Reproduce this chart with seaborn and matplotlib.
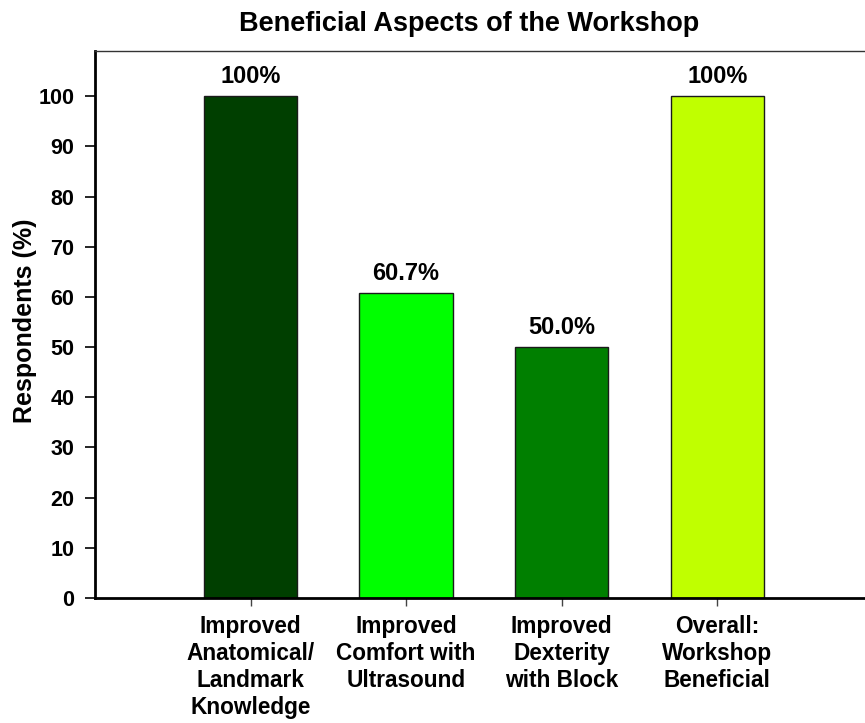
import matplotlib
matplotlib.use("Agg")
import matplotlib.pyplot as plt
import seaborn as sns
import pandas as pd

categories = [
    "Improved\nAnatomical/\nLandmark\nKnowledge",
    "Improved\nComfort with\nUltrasound",
    "Improved\nDexterity\nwith Block",
    "Overall:\nWorkshop\nBeneficial",
]
values = [100.0, 60.7, 50.0, 100.0]
value_labels = ["100%", "60.7%", "50.0%", "100%"]
bar_colors = ["#003f00", "#00ff00", "#007f00", "#c0ff00"]
y_ticks = [0, 10, 20, 30, 40, 50, 60, 70, 80, 90, 100]

sns.set_theme(style="white")
plt.rcParams["font.family"] = ["Liberation Sans", "DejaVu Sans"]
plt.rcParams["font.weight"] = "bold"
plt.rcParams["text.color"] = "black"
plt.rcParams["axes.labelcolor"] = "black"
plt.rcParams["xtick.color"] = "black"
plt.rcParams["ytick.color"] = "black"

df = pd.DataFrame({"aspect": categories, "pct": values})

fig = plt.figure(figsize=(8.65, 7.23), dpi=100)
ax = fig.add_axes([0.1098, 0.1729, 0.8902, 0.7566])

sns.barplot(data=df, x="aspect", y="pct", hue="aspect", palette=bar_colors,
            width=0.6, edgecolor="#1a1a1a", linewidth=1.0, legend=False,
            saturation=1, ax=ax)

for i, (v, lab) in enumerate(zip(values, value_labels)):
    ax.text(i, v + 1.6, lab, ha="center", va="bottom", fontsize=17,
            fontweight="bold", color="black")

ax.set_xlim(-1.0, 3.95)
ax.set_ylim(0, 109)
ax.set_yticks(y_ticks)
ax.set_yticklabels([str(t) for t in y_ticks], fontsize=15.5, fontweight="bold")
ax.set_xticks(range(len(categories)))
ax.set_xticklabels(categories, fontsize=16.3, fontweight="bold",
                   linespacing=1.22)
ax.set_xlabel("")
ax.set_ylabel("")
fig.text(25 / 865, 1 - 321 / 723, "Respondents (%)", rotation=90,
         ha="center", va="center", fontsize=18, fontweight="bold")

ax.tick_params(axis="y", direction="out", length=7, width=1.2, color="black",
               left=True, pad=8, labelcolor="black")
ax.tick_params(axis="x", direction="out", length=6, width=1.0, color="#444444",
               bottom=True, pad=6, labelcolor="black")

for side in ["left", "bottom"]:
    ax.spines[side].set_visible(True)
    ax.spines[side].set_color("black")
    ax.spines[side].set_linewidth(2.0)
ax.spines["top"].set_visible(True)
ax.spines["top"].set_color("#333333")
ax.spines["top"].set_linewidth(1.0)
ax.spines["right"].set_visible(False)

fig.text(0.542, 0.967, "Beneficial Aspects of the Workshop", ha="center",
         va="center", fontsize=19.5, fontweight="bold", color="black")

fig.savefig("out.png", dpi=100)
